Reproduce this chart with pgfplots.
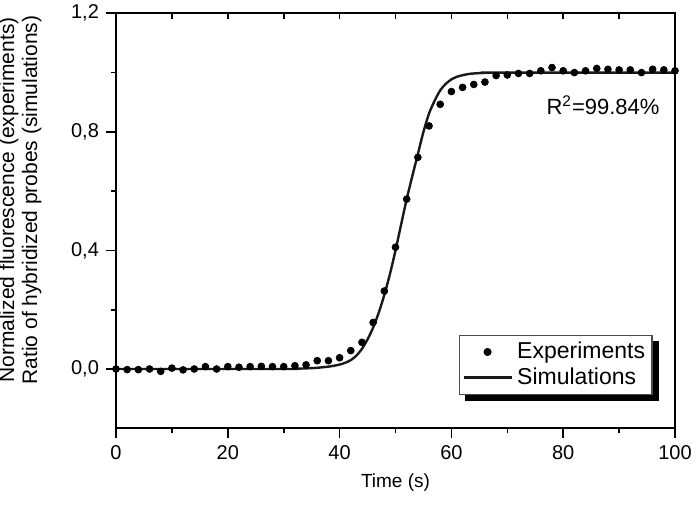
\documentclass[border=0pt]{standalone}
\usepackage{fontspec}
\setmainfont{Liberation Sans}
\usepackage{pgfplots}
\pgfplotsset{compat=1.18}
\usetikzlibrary{backgrounds}
\pgfplotsset{
  explegend/.style={legend image code/.code={\draw[##1] plot coordinates {(0.42cm,0cm)};}},
  simlegend/.style={legend image code/.code={\draw[##1] (0cm,0cm) -- (0.85cm,0cm);}},
}

\begin{document}
\begin{tikzpicture}
\begin{axis}[
  name=main,
  scale only axis, width=279.5pt, height=207.5pt,
  xmin=0, xmax=100, ymin=-0.2, ymax=1.2,
  xtick={0,20,...,100}, minor xtick={10,30,...,90},
  ytick={0,0.4,0.8,1.2}, minor ytick={0.2,0.6,1.0},
  xtick pos=bottom, ytick pos=left, tick align=outside,
  major tick length=5pt, minor tick length=2.5pt,
  tick style={black, line width=0.8pt},
  axis line style={line width=0.8pt},
  ticklabel style={font=\fontsize{10}{11}\selectfont},
  yticklabel style={/pgf/number format/.cd, fixed, fixed zerofill, precision=1, use comma},
  /pgf/number format/assume math mode=true,
  xlabel={Time (s)},
  ylabel={Normalized fluorescence (experiments)\\Ratio of hybridized probes (simulations)},
  xlabel style={font=\fontsize{9.5}{11}\selectfont},
  ylabel style={font=\fontsize{10.5}{11.5}\selectfont, align=center,
    at={(axis description cs:-0.1206,0.55)}, anchor=south},
  legend cell align=left,
  legend style={name=leg, at={(axis description cs:0.96,0.08)}, anchor=south east, draw=black!70, line width=0.6pt, fill=white,
    font=\fontsize{11.5}{12.5}\selectfont, inner sep=1.5pt, row sep=-1pt},
]
\addplot[only marks, mark=*, mark size=1.7pt, black, explegend]
coordinates {
(0,0) (2,-0.002) (4,-0.002) (6,0) (8,-0.008) (10,0.003) (12,-0.003) (14,0) (16,0.008) (18,0)
(20,0.008) (22,0.006) (24,0.008) (26,0.009) (28,0.008) (30,0.008) (32,0.011) (34,0.014) (36,0.028) (38,0.028)
(40,0.038) (42,0.062) (44,0.09) (46,0.157) (48,0.263) (50,0.411) (52,0.573) (54,0.714) (56,0.82) (58,0.893)
(60,0.936) (62,0.95) (64,0.96) (66,0.968) (68,0.99) (70,0.992) (72,0.997) (74,0.997) (76,1.006) (78,1.017)
(80,1.006) (82,1.0) (84,1.006) (86,1.014) (88,1.011) (90,1.009) (92,1.009) (94,1.0) (96,1.011) (98,1.009) (100,1.006)
};
\addlegendentry{Experiments}
\addplot[black!90, line width=1.2pt, smooth, simlegend]
coordinates {
(0,0) (30,0) (32,0.001) (34,0.002) (35,0.003) (36,0.004) (37,0.006) (38,0.008) (39,0.011) (40,0.015)
(41,0.021) (42,0.030) (43,0.045) (44,0.068) (45,0.100) (46,0.140) (47,0.190) (48,0.250) (49,0.320) (50,0.400)
(51,0.487) (52,0.573) (53,0.650) (54,0.725) (55,0.800) (56,0.862) (57,0.905) (58,0.940) (59,0.962) (60,0.977)
(61,0.986) (62,0.991) (63,0.995) (64,0.997) (66,0.999) (68,1.0) (100,1.0)
};
\addlegendentry{Simulations}
\node[anchor=east, inner sep=0pt, font=\fontsize{11}{12}\selectfont] at (axis cs:97.3,0.89) {R\textsuperscript{2}=99.84\%};
\end{axis}
\begin{pgfonlayer}{background}
\fill[black] ([xshift=3pt,yshift=-3pt]leg.south west) rectangle ([xshift=3pt,yshift=-3pt]leg.north east);
\end{pgfonlayer}
\begin{axis}[
  scale only axis, width=279.5pt, height=207.5pt,
  xmin=0, xmax=100, ymin=-0.2, ymax=1.2,
  axis x line*=top, hide y axis,
  x axis line style={-, line width=0.8pt},
  xtick={0,10,...,100}, xticklabels={},
  xtick align=inside, major tick length=3pt,
  tick style={black, line width=0.8pt},
]
\end{axis}
\pgfresetboundingbox
\path ([xshift=-58pt,yshift=-41.5pt]main.south west) rectangle ([xshift=10.5pt,yshift=6.65pt]main.north east);
\end{tikzpicture}
\end{document}
